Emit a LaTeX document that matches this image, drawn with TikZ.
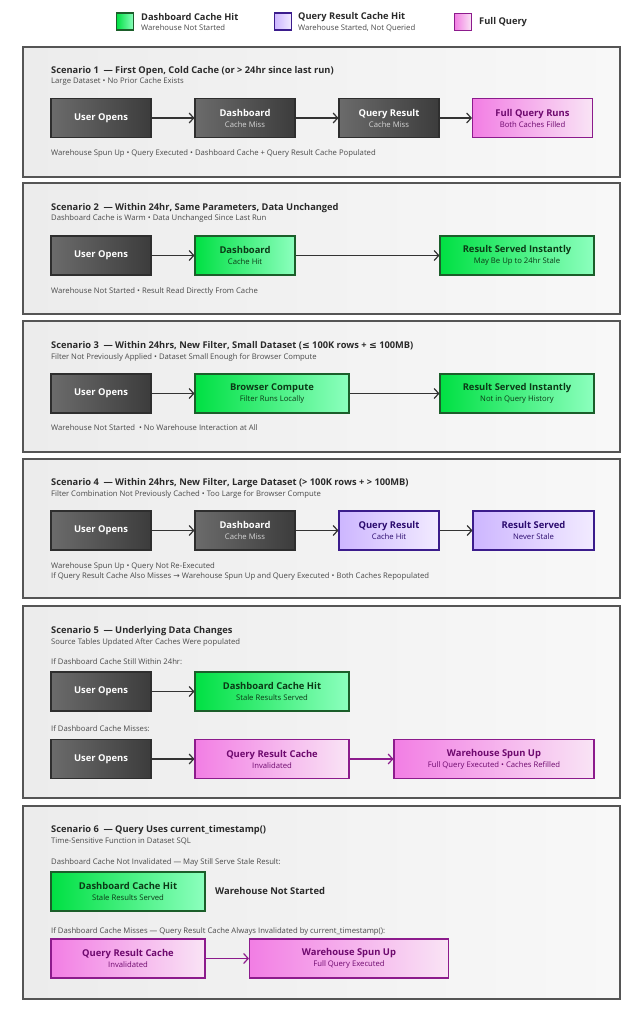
\documentclass[tikz,border=0pt]{standalone}
\usepackage{fontspec}
\setmainfont{Open Sans}
\newfontfamily\symf{DejaVu Sans}
\usetikzlibrary{arrows.meta}

\definecolor{panelline}{HTML}{555555}
\definecolor{panelL}{HTML}{ECECEC}
\definecolor{panelR}{HTML}{F8F8F8}
\definecolor{textgray}{HTML}{2A2A2A}
\definecolor{subgray}{HTML}{4A4A4A}
\definecolor{grayL}{HTML}{6B6B6B}
\definecolor{grayR}{HTML}{3C3C3C}
\definecolor{grayline}{HTML}{2E2E2E}
\definecolor{lightsub}{HTML}{D6D6D6}
\definecolor{greenL}{HTML}{00E043}
\definecolor{greenR}{HTML}{8CFFBE}
\definecolor{greenline}{HTML}{1B5E2A}
\definecolor{greentext}{HTML}{0B3A16}
\definecolor{purpL}{HTML}{CDB6FF}
\definecolor{purpR}{HTML}{F2EBFF}
\definecolor{purpline}{HTML}{3B1C8C}
\definecolor{purptext}{HTML}{2B0B6E}
\definecolor{pinkL}{HTML}{F27EE4}
\definecolor{pinkR}{HTML}{F9E4F5}
\definecolor{pinkline}{HTML}{8C1B8C}
\definecolor{pinktext}{HTML}{6E0A6E}
\definecolor{arrowgray}{HTML}{333333}

\newcommand{\ttl}{\fontsize{9.3}{10.5}\selectfont\bfseries}
\newcommand{\sml}{\fontsize{7.7}{9}\selectfont}
\newcommand{\bxf}{\fontsize{9.4}{10.5}\selectfont\bfseries}
\newcommand{\bx}[2]{{\bxf #1}\\[-1pt]{\sml #2}}
\newcommand{\gbx}[2]{{\bxf #1}\\[-1pt]{\sml\color{lightsub} #2}}

\tikzset{
  panel/.style={draw=panelline, line width=1.2pt, left color=panelL, right color=panelR},
  cbox/.style={rectangle, line width=1.1pt, minimum height=39pt, inner sep=1pt, align=center},
  graybox/.style={cbox, draw=grayline, left color=grayL, right color=grayR, text=white},
  greenbox/.style={cbox, draw=greenline, left color=greenL, right color=greenR, text=greentext},
  purpbox/.style={cbox, draw=purpline, left color=purpL, right color=purpR, text=purptext},
  pinkbox/.style={cbox, draw=pinkline, left color=pinkL, right color=pinkR, text=pinktext},
  lgd/.style={rectangle, line width=1.1pt, minimum size=17pt, inner sep=0pt},
  txt/.style={anchor=west, inner sep=0pt, text=textgray},
  arr/.style={-{Straight Barb[length=4.5pt,width=10pt]}, line width=1.2pt, draw=arrowgray},
  parr/.style={arr, draw=pinkline},
}

\begin{document}
\begin{tikzpicture}[x=1pt, y=-1pt]
\useasboundingbox[fill=white] (0,0) rectangle (643,1024);

% legend
\node[lgd, draw=greenline, left color=greenL, right color=greenR] (lg1) at (125,21.5) {};
\node[txt, font=\ttl] (lg1a) at (141,17) {Dashboard Cache Hit};
\node[txt, font=\sml, text=subgray] (lg1b) at (141,28) {Warehouse Not Started};
\node[lgd, draw=purpline, left color=purpL, right color=purpR] (lg2) at (283,21.5) {};
\node[txt, font=\ttl] (lg2a) at (298,17) {Query Result Cache Hit};
\node[txt, font=\sml, text=subgray] (lg2b) at (298,28) {Warehouse Started, Not Queried};
\node[lgd, draw=pinkline, left color=pinkL, right color=pinkR] (lg3) at (463,22) {};
\node[txt, font=\ttl] (lg3a) at (479,22) {Full Query};

% scenario 1
\draw[panel] (23,47) rectangle (620,177);
\node[txt, font=\ttl] (t1) at (51,71) {Scenario 1\enspace— First Open, Cold Cache (or > 24hr since last run)};
\node[txt, font=\sml, text=subgray] (s1) at (51,82) {Large Dataset • No Prior Cache Exists};
\node[graybox, minimum width=100pt] (u1) at (101,118) {{\bxf User Opens}};
\node[graybox, minimum width=100pt] (d1) at (245,118) {\gbx{Dashboard}{Cache Miss}};
\node[graybox, minimum width=100pt] (q1) at (389,118) {\gbx{Query Result}{Cache Miss}};
\node[pinkbox, minimum width=120pt] (f1) at (532.5,118) {\bx{Full Query Runs}{Both Caches Filled}};
\draw[arr] (u1) -- (d1);
\draw[arr] (d1) -- (q1);
\draw[arr] (q1) -- (f1);
\node[txt, font=\sml, text=subgray] (n1) at (51,154) {Warehouse Spun Up • Query Executed • Dashboard Cache + Query Result Cache Populated};

% scenario 2
\draw[panel] (23,183) rectangle (620,314);
\node[txt, font=\ttl] (t2) at (51,208) {Scenario 2\enspace— Within 24hr, Same Parameters, Data Unchanged};
\node[txt, font=\sml, text=subgray] (s2) at (51,219) {Dashboard Cache is Warm • Data Unchanged Since Last Run};
\node[graybox, minimum width=100pt] (u2) at (101,255.5) {{\bxf User Opens}};
\node[greenbox, minimum width=100pt] (d2) at (245,255.5) {\bx{Dashboard}{Cache Hit}};
\node[greenbox, minimum width=154pt] (r2) at (517,255.5) {\bx{Result Served Instantly}{May Be Up to 24hr Stale}};
\draw[arr] (u2) -- (d2);
\draw[arr] (d2) -- (r2);
\node[txt, font=\sml, text=subgray] (n2) at (51,291) {Warehouse Not Started • Result Read Directly From Cache};

% scenario 3
\draw[panel] (23,321) rectangle (620,452);
\node[txt, font=\ttl] (t3) at (51,346) {Scenario 3\enspace— Within 24hrs, New Filter, Small Dataset ({\symf ≤} 100K rows + {\symf ≤} 100MB)};
\node[txt, font=\sml, text=subgray] (s3) at (51,357) {Filter Not Previously Applied • Dataset Small Enough for Browser Compute};
\node[graybox, minimum width=100pt] (u3) at (101,393.5) {{\bxf User Opens}};
\node[greenbox, minimum width=154pt] (b3) at (272,393.5) {\bx{Browser Compute}{Filter Runs Locally}};
\node[greenbox, minimum width=154pt] (r3) at (517,393.5) {\bx{Result Served Instantly}{Not in Query History}};
\draw[arr] (u3) -- (b3);
\draw[arr] (b3) -- (r3);
\node[txt, font=\sml, text=subgray] (n3) at (51,428) {Warehouse Not Started\enspace• No Warehouse Interaction at All};

% scenario 4
\draw[panel] (23,459) rectangle (620,598);
\node[txt, font=\ttl] (t4) at (51,483) {Scenario 4\enspace— Within 24hrs, New Filter, Large Dataset (> 100K rows + > 100MB)};
\node[txt, font=\sml, text=subgray] (s4) at (51,494) {Filter Combination Not Previously Cached • Too Large for Browser Compute};
\node[graybox, minimum width=100pt] (u4) at (101,530.5) {{\bxf User Opens}};
\node[graybox, minimum width=100pt] (d4) at (245,530.5) {\gbx{Dashboard}{Cache Miss}};
\node[purpbox, minimum width=100pt] (q4) at (389,530.5) {\bx{Query Result}{Cache Hit}};
\node[purpbox, minimum width=121pt] (r4) at (533.5,530.5) {\bx{Result Served}{Never Stale}};
\draw[arr] (u4) -- (d4);
\draw[arr] (d4) -- (q4);
\draw[arr] (q4) -- (r4);
\node[txt, font=\sml, text=subgray] (n4a) at (51,566) {Warehouse Spun Up • Query Not Re-Executed};
\node[txt, font=\sml, text=subgray] (n4b) at (51,576) {If Query Result Cache Also Misses {\symf →} Warehouse Spun Up and Query Executed • Both Caches Repopulated};

% scenario 5
\draw[panel] (23,606) rectangle (620,798);
\node[txt, font=\ttl] (t5) at (51,631) {Scenario 5\enspace— Underlying Data Changes};
\node[txt, font=\sml, text=subgray] (s5) at (51,642) {Source Tables Updated After Caches Were populated};
\node[txt, font=\sml, text=subgray] (l5a) at (51,662) {If Dashboard Cache Still Within 24hr:};
\node[graybox, minimum width=100pt] (u5) at (101,691.5) {{\bxf User Opens}};
\node[greenbox, minimum width=154pt] (h5) at (272,691.5) {\bx{Dashboard Cache Hit}{Stale Results Served}};
\draw[arr] (u5) -- (h5);
\node[txt, font=\sml, text=subgray] (l5b) at (51,729) {If Dashboard Cache Misses:};
\node[graybox, minimum width=100pt] (v5) at (101,759) {{\bxf User Opens}};
\node[pinkbox, minimum width=154pt] (c5) at (272,759) {\bx{Query Result Cache}{Invalidated}};
\node[pinkbox, minimum width=200pt] (w5) at (494,759) {\bx{Warehouse Spun Up}{Full Query Executed • Caches Refilled}};
\draw[arr] (v5) -- (c5);
\draw[parr] (c5) -- (w5);

% scenario 6
\draw[panel] (23,806) rectangle (620,999);
\node[txt, font=\ttl] (t6) at (51,830) {Scenario 6\enspace— Query Uses current\_timestamp()};
\node[txt, font=\sml, text=subgray] (s6) at (51,841) {Time-Sensitive Function in Dataset SQL};
\node[txt, font=\sml, text=subgray] (l6a) at (51,862) {Dashboard Cache Not Invalidated — May Still Serve Stale Result:};
\node[greenbox, minimum width=154pt] (h6) at (128,891.5) {\bx{Dashboard Cache Hit}{Stale Results Served}};
\node[txt, font=\bxf] (ns6) at (215,891) {Warehouse Not Started};
\node[txt, font=\sml, text=subgray] (l6b) at (51,931) {If Dashboard Cache Misses — Query Result Cache Always Invalidated by current\_timestamp():};
\node[pinkbox, minimum width=154pt] (c6) at (128,958.5) {\bx{Query Result Cache}{Invalidated}};
\node[pinkbox, minimum width=199pt] (w6) at (349,958.5) {\bx{Warehouse Spun Up}{Full Query Executed}};
\draw[parr] (c6) -- (w6);
\end{tikzpicture}
\end{document}
